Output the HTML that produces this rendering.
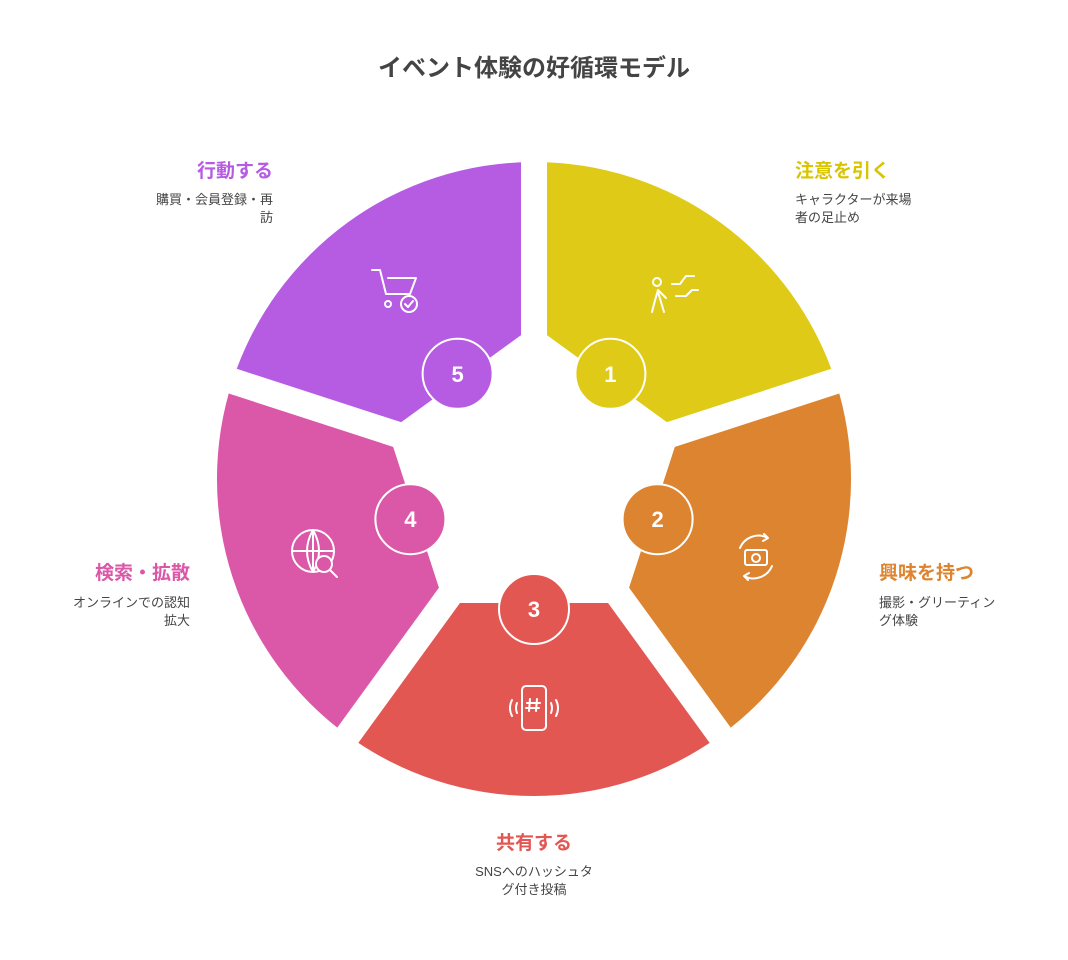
<!DOCTYPE html>
<html><head><meta charset="utf-8"><style>
body{margin:0;background:#fff;width:1068px;height:960px;overflow:hidden;font-family:"Liberation Sans","Noto Sans CJK JP",sans-serif;}
.t{position:absolute;font-weight:bold;font-size:19px;}
.d{position:absolute;font-size:13px;color:#444;line-height:18px;}
</style></head><body>
<div style="position:absolute;top:48px;width:1068px;text-align:center;font-size:24px;font-weight:bold;color:#444">イベント体験の好循環モデル</div>
<svg width="1068" height="960" style="position:absolute;left:0;top:0">
<path d="M534 162A317 317 0 0 1 835.5 381L679.8 431.6L534 325.7Z" fill="#DFCB17"/>
<path d="M835.5 381A317 317 0 0 1 720.3 735.5L624.1 603L679.8 431.6Z" fill="#DD8430"/>
<path d="M720.3 735.5A317 317 0 0 1 347.7 735.5L443.9 603L624.1 603Z" fill="#E35753"/>
<path d="M347.7 735.5A317 317 0 0 1 232.5 381L388.2 431.6L443.9 603Z" fill="#DB57A8"/>
<path d="M232.5 381A317 317 0 0 1 534 162L534 325.7L388.2 431.6Z" fill="#B55CE3"/>
<g stroke="#fff" stroke-width="26">
<line x1="534" y1="479" x2="534" y2="142"/>
<line x1="534" y1="479" x2="854.5" y2="374.9"/>
<line x1="534" y1="479" x2="732.1" y2="751.6"/>
<line x1="534" y1="479" x2="335.9" y2="751.6"/>
<line x1="534" y1="479" x2="213.5" y2="374.9"/>
</g>
<g stroke="#fff" stroke-width="2">
<circle cx="610.4" cy="373.8" r="35" fill="#DFCB17"/>
<circle cx="657.6" cy="519.2" r="35" fill="#DD8430"/>
<circle cx="534" cy="609" r="35" fill="#E35753"/>
<circle cx="410.4" cy="519.2" r="35" fill="#DB57A8"/>
<circle cx="457.6" cy="373.8" r="35" fill="#B55CE3"/>
</g>
<g font-size="22" font-weight="bold" fill="#fff" text-anchor="middle" font-family="Liberation Sans,sans-serif">
<text x="610.4" y="381.8">1</text>
<text x="657.6" y="527.2">2</text>
<text x="534" y="617">3</text>
<text x="410.4" y="527.2">4</text>
<text x="457.6" y="381.8">5</text>
</g>
<g fill="none" stroke="#fff" stroke-width="2" stroke-linecap="round" stroke-linejoin="round">
<circle cx="657" cy="282" r="4"/><path d="M658 290l-4 14 M658 290l8 8 M658 292l6 20 M654 304l-2 8 M672 284h8l6-8 h8 M676 296h10l6-6h6"/>
<path d="M740 548a20 20 0 0 1 28-10 M772 566a20 20 0 0 1 -28 10 M764 534l4 4-5 3 M748 580l-4-4 5-3"/><rect x="745" y="550" width="22" height="15" rx="2"/><circle cx="756" cy="558" r="4"/>
<rect x="522" y="686" width="24" height="44" rx="4"/><path d="M530 699l-1 12 M537 699l-1 12 M527 703h13 M526 708h13 M512 700q-4 8 0 16 M556 700q4 8 0 16 M517 703q-2 5 0 10 M551 703q2 5 0 10"/>
<circle cx="313" cy="551" r="21"/><path d="M292 551h42 M313 530v42 M313 530q-12 21 0 42 M313 530q12 21 0 42"/><circle cx="324" cy="564" r="8" fill="#DB57A8"/><path d="M330 570l7 7"/>
<path d="M372 270h8l6 24h24l6-16h-28 M386 294h20"/><circle cx="388" cy="304" r="3"/><circle cx="409" cy="304" r="8" fill="#B55CE3"/><path d="M405 304l3 3 5-6"/>
</g>
</svg>
<div class="t" style="left:795px;top:156px;color:#D9C400">注意を引く</div>
<div class="d" style="left:795px;top:191px">キャラクターが来場<br>者の足止め</div>
<div class="t" style="left:879px;top:558px;color:#DD8430">興味を持つ</div>
<div class="d" style="left:879px;top:594px">撮影・グリーティン<br>グ体験</div>
<div class="t" style="left:434px;top:828px;width:200px;text-align:center;color:#E35753">共有する</div>
<div class="d" style="left:434px;top:863px;width:200px;text-align:center">SNSへのハッシュタ<br>グ付き投稿</div>
<div class="t" style="left:0;width:190px;top:558px;text-align:right;color:#DB57A8">検索・拡散</div>
<div class="d" style="left:0;width:190px;top:594px;text-align:right">オンラインでの認知<br>拡大</div>
<div class="t" style="left:0;width:273px;top:156px;text-align:right;color:#B55CE3">行動する</div>
<div class="d" style="left:0;width:273px;top:191px;text-align:right">購買・会員登録・再<br>訪</div>
</body></html>
